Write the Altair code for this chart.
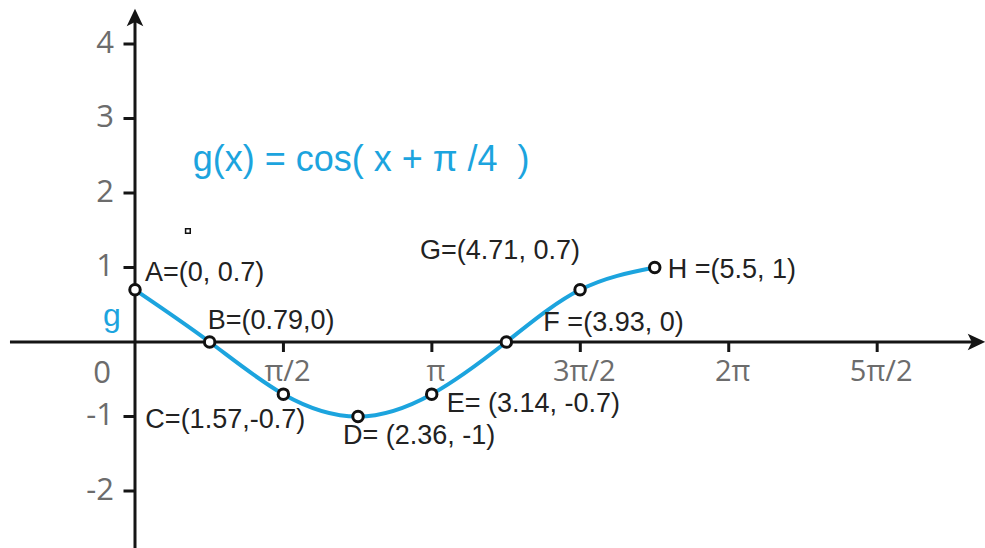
import altair as alt
import pandas as pd

# Sample points of g(x) = cos(x + π/4)
point_names = ["A", "B", "C", "D", "E", "F", "G", "H"]
point_x = [0, 0.79, 1.57, 2.36, 3.14, 3.93, 4.71, 5.5]
point_y = [0.7, 0, -0.7, -1, -0.7, 0, 0.7, 1]
point_labels = [
    "A=(0, 0.7)", "B=(0.79,0)", "C=(1.57,-0.7)", "D= (2.36, -1)",
    "E= (3.14, -0.7)", "F =(3.93, 0)", "G=(4.71, 0.7)", "H =(5.5, 1)",
]

# Axis ticks
x_tick_values = [1.5708, 3.1416, 4.7124, 6.2832, 7.854]
x_tick_labels = ["π/2", "π", "3π/2", "2π", "5π/2"]
y_tick_values = [4, 3, 2, 1, -1, -2]
y_tick_labels = ["4", "3", "2", "1", "-1", "-2"]

# Stray square marker and function caption
marker_x = [0.56]
marker_y = [1.49]
caption = "g(x) = cos( x + π /4\u00a0\u00a0)"
caption_x, caption_y = 0.61, 2.44

# label placement (pixel offsets from each point)
label_dx = [10, -2, -138, -15, 15, 37, -160, 13]
label_dy = [-17, -21, 26, 20, 10, -19, -39, 3]

W, H = 985, 548
X_DOMAIN = [-1.4286, 8.995]
Y_DOMAIN = [-2.765, 4.59]
xs = alt.Scale(domain=X_DOMAIN, nice=False, zero=False)
ys = alt.Scale(domain=Y_DOMAIN, nice=False, zero=False)

AXIS_COLOR = "#151515"
CURVE_COLOR = "#1ca4de"
GRAY = "#6c6c6c"


def X(field="x"):
    return alt.X(f"{field}:Q", scale=xs, axis=None)


def Y(field="y"):
    return alt.Y(f"{field}:Q", scale=ys, axis=None)


pts = pd.DataFrame({"name": point_names, "x": point_x, "y": point_y, "label": point_labels})

# axis lines
axis_df = pd.DataFrame({"x": [-1.323, 0], "x2": [8.9, 0], "y": [0, -2.8], "y2": [0, 4.35]})
axes = alt.Chart(axis_df).mark_rule(strokeWidth=3, color=AXIS_COLOR).encode(
    x=X(), x2="x2:Q", y=Y(), y2="y2:Q"
)

up_arrow = alt.Chart(pd.DataFrame({"x": [0], "y": [4.35]})).mark_point(
    shape="M0,-1 L0.9,0.9 L0,0.45 L-0.9,0.9 Z", size=340, filled=True,
    color=AXIS_COLOR, opacity=1
).encode(x=X(), y=Y())

right_arrow = alt.Chart(pd.DataFrame({"x": [8.9], "y": [0]})).mark_point(
    shape="M1,0 L-0.9,0.9 L-0.45,0 L-0.9,-0.9 Z", size=340, filled=True,
    color=AXIS_COLOR, opacity=1
).encode(x=X(), y=Y())

xt = pd.DataFrame({"x": x_tick_values, "y": [0] * len(x_tick_values), "label": x_tick_labels})
yt = pd.DataFrame({"x": [0] * len(y_tick_values), "y": y_tick_values, "label": y_tick_labels})

x_ticks = alt.Chart(xt).mark_tick(
    orient="vertical", size=10, thickness=3, color=AXIS_COLOR, yOffset=5, opacity=1
).encode(x=X(), y=Y())
y_ticks = alt.Chart(yt).mark_tick(
    orient="horizontal", size=11, thickness=3, color=AXIS_COLOR, xOffset=-6, opacity=1
).encode(x=X(), y=Y())

x_labels = alt.Chart(xt).mark_text(
    font="Open Sans", fontSize=29, color=GRAY, align="center", baseline="middle",
    dx=4, dy=30
).encode(x=X(), y=Y(), text="label:N")
y_labels = alt.Chart(yt).mark_text(
    font="Open Sans", fontSize=31, color=GRAY, align="right", baseline="middle", dx=-21
).encode(x=X(), y=Y(), text="label:N")
zero_label = alt.Chart(pd.DataFrame({"x": [0], "y": [0], "label": ["0"]})).mark_text(
    font="Open Sans", fontSize=31, color=GRAY, align="center", baseline="middle",
    dx=-33, dy=32
).encode(x=X(), y=Y(), text="label:N")

curve = alt.Chart(pts).mark_line(
    color=CURVE_COLOR, strokeWidth=4, interpolate="natural"
).encode(x=X(), y=Y(), order="x:Q")

dots = alt.Chart(pts).mark_point(
    shape="circle", size=110, filled=True, fill="white", stroke="#111111",
    strokeWidth=3, opacity=1
).encode(x=X(), y=Y())

label_layers = []
for i in range(len(point_names)):
    label_layers.append(
        alt.Chart(pts.iloc[[i]]).mark_text(
            font="Liberation Sans", fontSize=27, color="#222222",
            align="left", baseline="middle", dx=label_dx[i], dy=label_dy[i]
        ).encode(x=X(), y=Y(), text="label:N")
    )

g_label = alt.Chart(pts.iloc[[0]].assign(t="g")).mark_text(
    font="Liberation Sans", fontSize=32, color=CURVE_COLOR, align="center",
    baseline="middle", dx=-23, dy=26
).encode(x=X(), y=Y(), text="t:N")

title = alt.Chart(pd.DataFrame({"x": [caption_x], "y": [caption_y], "t": [caption]})).mark_text(
    font="Liberation Sans", fontSize=36, color=CURVE_COLOR, align="left", baseline="middle"
).encode(x=X(), y=Y(), text="t:N")

marker = alt.Chart(pd.DataFrame({"x": marker_x, "y": marker_y})).mark_point(
    shape="square", size=22, filled=True, fill="white", stroke="#111111",
    strokeWidth=1.5, opacity=1
).encode(x=X(), y=Y())

chart = alt.layer(
    axes, up_arrow, right_arrow, x_ticks, y_ticks, x_labels, y_labels, zero_label,
    curve, dots, *label_layers, g_label, title, marker
).properties(
    width=W, height=H, padding=0, autosize=alt.AutoSizeParams(type="none"),
    background="white"
).configure_view(stroke=None)

chart.save("out.html", embed_options={"renderer": "svg", "actions": False})
